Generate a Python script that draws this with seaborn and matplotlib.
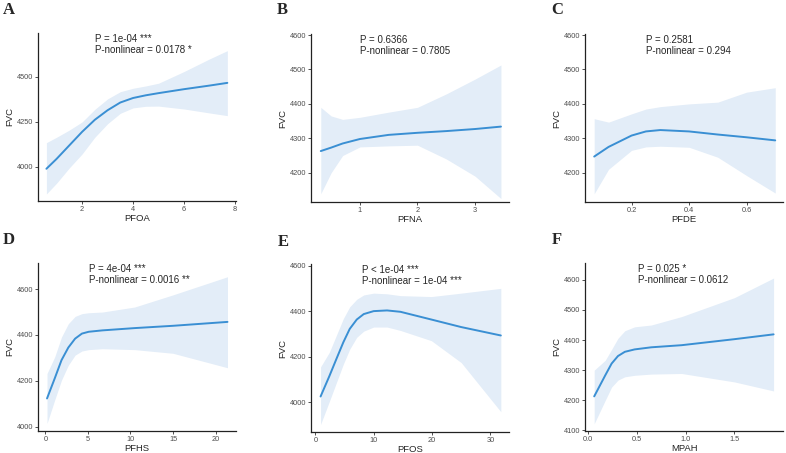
import matplotlib
matplotlib.use("Agg")
import matplotlib.pyplot as plt
import seaborn as sns
import pandas as pd
import numpy as np

sns.set_theme(style="ticks")
plt.rcParams['font.family'] = ['Liberation Sans', 'DejaVu Sans']

# ---- panel A: PFOA ----
pfoa_x = [0.6, 1.0, 1.5, 2.0, 2.5, 3.0, 3.5, 4.0, 4.5, 5.0, 6.0, 7.0, 7.7]
pfoa_fit = [3990, 4045, 4120, 4195, 4262, 4315, 4358, 4383, 4398, 4410, 4432, 4452, 4467]
pfoa_lo = [3850, 3910, 3995, 4072, 4165, 4240, 4298, 4328, 4337, 4338, 4322, 4300, 4285]
pfoa_hi = [4135, 4165, 4205, 4250, 4320, 4378, 4418, 4437, 4450, 4465, 4530, 4600, 4646]

# ---- panel B: PFNA ----
pfna_x = [0.32, 0.5, 0.7, 1.0, 1.5, 2.0, 2.5, 3.0, 3.45]
pfna_fit = [4263, 4273, 4285, 4298, 4310, 4316, 4321, 4327, 4334]
pfna_lo = [4139, 4200, 4250, 4275, 4278, 4280, 4240, 4190, 4125]
pfna_hi = [4390, 4365, 4355, 4361, 4376, 4390, 4429, 4472, 4513]

# ---- panel C: PFDE ----
pfde_x = [0.07, 0.12, 0.2, 0.25, 0.3, 0.4, 0.5, 0.6, 0.7]
pfde_fit = [4247, 4275, 4308, 4320, 4324, 4320, 4311, 4303, 4294]
pfde_lo = [4139, 4210, 4265, 4275, 4277, 4274, 4245, 4192, 4141]
pfde_hi = [4357, 4347, 4371, 4385, 4392, 4400, 4405, 4434, 4447]

# ---- panel D: PFHS ----
pfhs_x = [0.2, 1.1, 1.9, 2.7, 3.5, 4.3, 5.1, 6.7, 10.5, 15, 21.4]
pfhs_fit = [4123, 4210, 4290, 4345, 4384, 4406, 4414, 4420, 4430, 4440, 4457]
pfhs_lo = [4014, 4116, 4203, 4268, 4312, 4330, 4336, 4340, 4336, 4320, 4257]
pfhs_hi = [4232, 4304, 4391, 4449, 4481, 4493, 4497, 4500, 4522, 4575, 4654]

# ---- panel E: PFOS ----
pfos_x = [0.9, 2.4, 3.6, 4.8, 5.9, 7.1, 8.3, 10, 12.3, 14.6, 19.9, 25, 31.8]
pfos_fit = [4025, 4114, 4189, 4263, 4322, 4363, 4387, 4400, 4403, 4397, 4363, 4330, 4293]
pfos_lo = [3902, 4003, 4085, 4167, 4233, 4285, 4312, 4330, 4330, 4315, 4270, 4174, 3958]
pfos_hi = [4155, 4219, 4293, 4367, 4419, 4452, 4471, 4479, 4476, 4468, 4464, 4479, 4500]

# ---- panel F: MPAH ----
mpah_x = [0.067, 0.18, 0.245, 0.31, 0.38, 0.48, 0.65, 0.96, 1.5, 1.9]
mpah_fit = [4213, 4283, 4322, 4347, 4361, 4369, 4376, 4383, 4403, 4419]
mpah_lo = [4122, 4200, 4244, 4267, 4278, 4283, 4287, 4289, 4261, 4231]
mpah_hi = [4300, 4333, 4369, 4406, 4431, 4444, 4450, 4478, 4541, 4606]

panels = [
    ("A", "PFOA", pfoa_x, pfoa_fit, pfoa_lo, pfoa_hi,
     ["P = 1e-04 ***", "P-nonlinear = 0.0178 *"],
     (0.27, 8.04), (3811, 4744), [2, 4, 6, 8], [4000, 4250, 4500]),
    ("B", "PFNA", pfna_x, pfna_fit, pfna_lo, pfna_hi,
     ["P = 0.6366", "P-nonlinear = 0.7805"],
     (0.15, 3.59), (4115, 4603), [1, 2, 3], [4200, 4300, 4400, 4500, 4600]),
    ("C", "PFDE", pfde_x, pfde_fit, pfde_lo, pfde_hi,
     ["P = 0.2581", "P-nonlinear = 0.294"],
     (0.038, 0.727), (4115, 4603), [0.2, 0.4, 0.6], [4200, 4300, 4400, 4500, 4600]),
    ("D", "PFHS", pfhs_x, pfhs_fit, pfhs_lo, pfhs_hi,
     ["P = 4e-04 ***", "P-nonlinear = 0.0016 **"],
     (-0.86, 22.4), (3981, 4714), [0, 5, 10, 15, 20], [4000, 4200, 4400, 4600]),
    ("E", "PFOS", pfos_x, pfos_fit, pfos_lo, pfos_hi,
     ["P < 1e-04 ***", "P-nonlinear = 1e-04 ***"],
     (-0.74, 33.2), (3869, 4607), [0, 10, 20, 30], [4000, 4200, 4400, 4600]),
    ("F", "MPAH", mpah_x, mpah_fit, mpah_lo, mpah_hi,
     ["P = 0.025 *", "P-nonlinear = 0.0612"],
     (-0.027, 1.996), (4098, 4656), [0.0, 0.5, 1.0, 1.5], [4100, 4200, 4300, 4400, 4500, 4600]),
]

# axes boxes in pixels: left, top
boxes = [(38, 33), (311, 34), (585, 34), (38, 263), (311, 264), (585, 263)]
text_x = [0.288, 0.247, 0.31, 0.256, 0.256, 0.27]
letter_pos = [(9, 10), (282, 10), (557, 10), (9, 240), (283, 242), (557, 240)]

W, H = 786, 453
fig = plt.figure(figsize=(W / 100, H / 100), dpi=100)
line_col = "#3a8fd3"
band_col = "#e3edf8"

for i, (letter, name, x, fit, lo, hi, txt, xlim, ylim, xt, yt) in enumerate(panels):
    l, t = boxes[i]
    ax = fig.add_axes([l / W, 1 - (t + 168) / H, 198 / W, 168 / H])
    ax.fill_between(x, lo, hi, color=band_col, lw=0)
    df = pd.DataFrame({"x": x, "y": fit})
    sns.lineplot(data=df, x="x", y="y", ax=ax, color=line_col, lw=1.4)
    ax.set_xlim(*xlim)
    ax.set_ylim(*ylim)
    ax.set_xticks(xt)
    ax.set_yticks(yt)
    ax.set_xlabel(name, fontsize=6.8, labelpad=1)
    ax.set_ylabel("FVC", fontsize=6.8, labelpad=2)
    ax.tick_params(labelsize=5.3, labelcolor="#4d4d4d", length=2, width=0.6,
                   pad=1.5, color="#333333")
    sns.despine(ax=ax)
    for s in ["left", "bottom"]:
        ax.spines[s].set_linewidth(0.9)
        ax.spines[s].set_color("#222222")
    ax.text(text_x[i], 0.965, txt[0], transform=ax.transAxes, fontsize=7,
            va="center", ha="left")
    ax.text(text_x[i], 0.90, txt[1], transform=ax.transAxes, fontsize=7,
            va="center", ha="left")
    lx, ly = letter_pos[i]
    fig.text(lx / W, 1 - ly / H, letter, fontsize=12, fontweight="bold",
             family="Liberation Serif", ha="center", va="center")

fig.savefig("out.png", dpi=100, facecolor="white")
